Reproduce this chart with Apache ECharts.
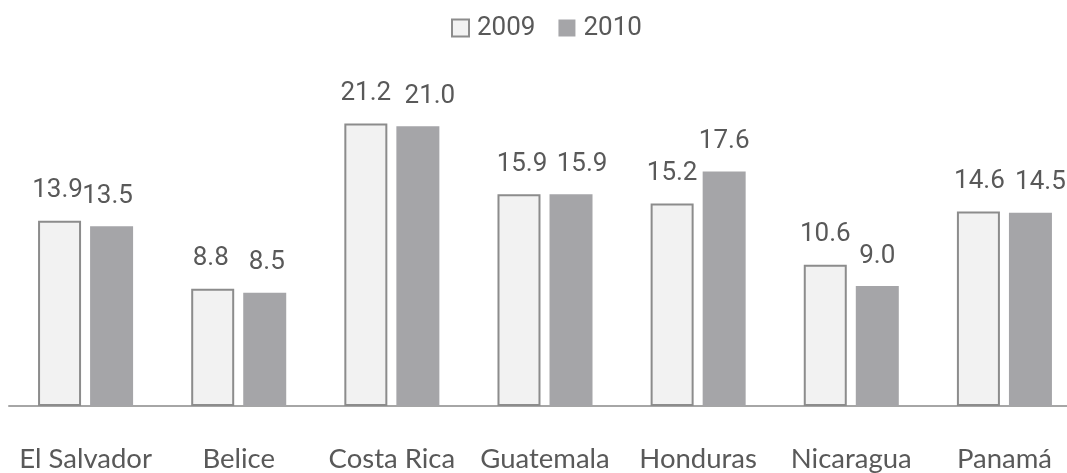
<!DOCTYPE html>
<html>
<head>
<meta charset="utf-8">
<script src="https://cdn.jsdelivr.net/npm/echarts@6/dist/echarts.min.js"></script>
<style>
  html, body { margin: 0; padding: 0; background: #fff; overflow: hidden; }
  /* the plot runs past the right edge in the original, so the canvas is a bit wider than the window */
  #chart { width: 1081px; height: 473px; }
</style>
</head>
<body>
<div id="chart"></div>
<script>
const countries = ['El Salvador', 'Belice', 'Costa Rica', 'Guatemala', 'Honduras', 'Nicaragua', 'Panamá'];
const values2009 = [13.9, 8.8, 21.2, 15.9, 15.2, 10.6, 14.6];
const values2010 = [13.5, 8.5, 21.0, 15.9, 17.6, 9.0, 14.5];

// horizontal nudges of the value labels so neighbours don't collide (as in the original)
const shift2009 = [-2, -2, 0, 3, 0, 0, 1];
const shift2010 = [-4, 2, 12, 11, 0, 0, 10];

const labelStyle = {
    show: true,
    position: 'top',
    distance: 17,
    color: '#595959',
    fontSize: 26,
    fontFamily: 'Roboto',
    formatter: (p) => p.value.toFixed(1)
};

const withShift = (values, shifts) => values.map((v, i) => ({
    value: v,
    label: { offset: [shifts[i], 0] }
}));

let chart = echarts.init(document.getElementById('chart'));
chart.setOption({
    animation: false,
    legend: {
        top: 10,
        left: 446,
        icon: 'rect',
        itemWidth: 17,
        itemHeight: 17,
        itemGap: 23,
        textStyle: { fontSize: 26, color: '#595959', fontFamily: 'Roboto', padding: [0, 0, 0, 3] },
        data: ['2009', '2010']
    },
    grid: {
        left: 9,
        right: 0,
        top: 73,
        bottom: 67
    },
    xAxis: {
        type: 'category',
        data: countries,
        axisLine: { lineStyle: { color: '#a6a6a6', width: 2 } },
        axisTick: { show: false },
        axisLabel: {
            interval: 0,
            margin: 39,
            fontSize: 27.5,
            color: '#595959',
            fontFamily: 'Lato'
        }
    },
    yAxis: {
        type: 'value',
        min: 0,
        max: 25,
        show: false,
        splitLine: { show: false }
    },
    series: [
        {
            name: '2009',
            type: 'bar',
            data: withShift(values2009, shift2009),
            barWidth: 43,
            barGap: '21%',
            itemStyle: { color: '#f2f2f2', borderColor: '#8c8c8c', borderWidth: 2 },
            label: labelStyle
        },
        {
            name: '2010',
            type: 'bar',
            data: withShift(values2010, shift2010),
            barWidth: 43,
            itemStyle: { color: '#a5a5a8' },
            label: labelStyle
        }
    ]
});
</script>
</body>
</html>
